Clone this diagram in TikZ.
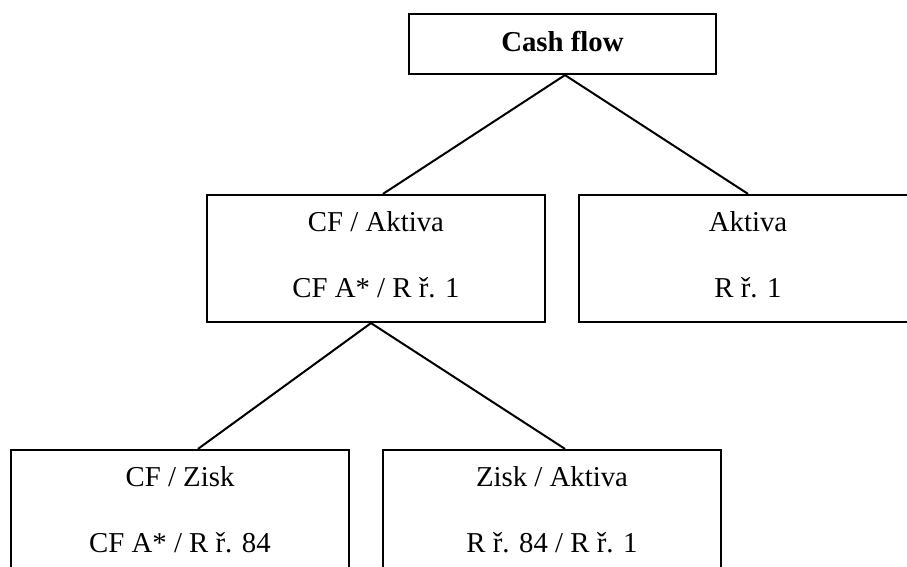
\documentclass[tikz,border=0pt]{standalone}
\usepackage{fontspec}
\setmainfont{Liberation Serif}
\begin{document}
\begin{tikzpicture}[x=0.5pt,y=-0.5pt,
  box/.style={draw=black, line width=1.1pt, rectangle, inner sep=0pt, minimum width=169pt, minimum height=63.5pt},
  topbox/.style={box, minimum width=153.5pt, minimum height=30pt},
  txt/.style={anchor=base, inner sep=0pt, font=\fontsize{14.4}{17}\selectfont},
  link/.style={draw=black, line width=1pt}]
\clip (0,0) rectangle (907,567);
\fill[white] (0,0) rectangle (907,567);
% boxes
\node[topbox] (cf) at (562.5,44) {};
\node[box] (cfa) at (376,258.5) {};
\node[box] (akt) at (748,258.5) {};
\node[box] (cfz) at (180,513.5) {};
\node[box] (za) at (552,513.5) {};
% texts
\node[txt, font=\fontsize{14.4}{17}\selectfont\bfseries] (tcf) at ([yshift=-19.5pt]cf.north) {Cash flow};
\node[txt] (tcfa1) at ([yshift=-19pt]cfa.north) {CF / Aktiva};
\node[txt] (tcfa2) at ([yshift=-52pt]cfa.north) {CF A* / R ř. 1};
\node[txt] (takt1) at ([yshift=-19pt]akt.north) {Aktiva};
\node[txt] (takt2) at ([yshift=-52pt]akt.north) {R ř. 1};
\node[txt] (tcfz1) at ([yshift=-19pt]cfz.north) {CF / Zisk};
\node[txt] (tcfz2) at ([yshift=-52pt]cfz.north) {CF A* / R ř. 84};
\node[txt] (tza1) at ([yshift=-19pt]za.north) {Zisk / Aktiva};
\node[txt] (tza2) at ([yshift=-52pt]za.north) {R ř. 84 / R ř. 1};
% connectors
\draw[link] ([xshift=3.5pt]cfa.north) -- ([xshift=1.25pt]cf.south) -- (akt.north);
\draw[link] ([xshift=9pt]cfz.north) -- ([xshift=-2.5pt]cfa.south) -- ([xshift=6.5pt]za.north);
\end{tikzpicture}
\end{document}
